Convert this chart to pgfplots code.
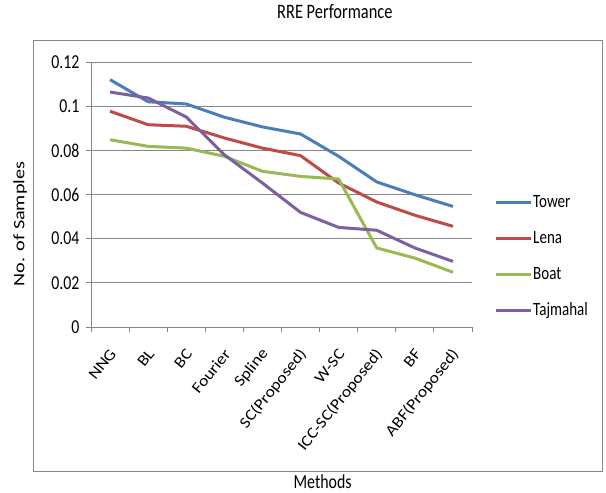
\documentclass[border=0pt]{standalone}
\usepackage{pgfplots}
\pgfplotsset{compat=1.18}
\usepackage{graphicx}
\usepackage{fontspec}
\setmainfont{Carlito}
\definecolor{ctower}{HTML}{4A7EBB}
\definecolor{clena}{HTML}{BE4B48}
\definecolor{cboat}{HTML}{98B954}
\definecolor{ctaj}{HTML}{7D60A0}
\definecolor{cgrid}{HTML}{868686}
\newcommand{\vs}[1]{\scalebox{1}[1.25]{#1}}
\newcommand{\xs}[1]{\scalebox{1.13}[1]{#1}}
\begin{document}
\begin{tikzpicture}
\path[use as bounding box] (-91pt,-166pt) rectangle (515pt,327pt);
\draw[cgrid, line width=1pt] (-57pt,-144pt) rectangle (511pt,286pt);
\begin{axis}[
  at={(0pt,0pt)}, anchor=south west,
  scale only axis, width=381pt, height=265pt,
  xmin=-0.5, xmax=9.5, ymin=0, ymax=0.12,
  axis lines=left, axis line style={-, cgrid, line width=0.9pt},
  xtick={0,...,9},
  xticklabels={\xs{NNG},\xs{BL},\xs{BC},\xs{Fourier},\xs{Spline},\xs{SC(Proposed)},\xs{W-SC},\xs{ICC-SC(Proposed)},\xs{BF},\xs{ABF(Proposed)}},
  major x tick style={draw=none},
  minor xtick={-0.5,0.5,...,9.5},
  minor tick length=5pt,
  minor tick style={cgrid, line width=0.9pt},
  ytick={0,0.02,0.04,0.06,0.08,0.1,0.12},
  yticklabels={\vs{0},\vs{0.02},\vs{0.04},\vs{0.06},\vs{0.08},\vs{0.1},\vs{0.12}},
  major tick length=5pt,
  tick align=outside,
  major y tick style={cgrid, line width=0.9pt},
  ymajorgrids, grid style={cgrid, line width=0.9pt},
  /pgf/number format/assume math mode=true,
  yticklabel style={font=\fontsize{15.8}{18}\selectfont, xshift=-3pt},
  xticklabel style={font=\fontsize{15.7}{18}\selectfont, xshift=3pt, yshift=-19pt, rotate=51.3, anchor=east, inner sep=0pt},
  title={\vs{RRE Performance}},
  title style={at={(axis description cs:0.640,1.166)}, anchor=center, yshift=0pt, font=\fontsize{16.4}{19}\selectfont},
  xlabel={\vs{Methods}},
  xlabel style={at={(axis description cs:0.608,-0.582)}, anchor=center, inner sep=0pt, font=\fontsize{15.9}{19}\selectfont},
  ylabel={\scalebox{1.27}[1]{No. of Samples}},
  ylabel style={at={(axis description cs:-0.186,0.389)}, anchor=center, font=\fontsize{15.9}{19}\selectfont},
  legend style={draw=none, fill=none, at={(axis description cs:1.05,0.51)}, anchor=north west,
    font=\fontsize{15}{18}\selectfont, row sep=19pt, nodes={inner sep=1pt, text height=12pt, text depth=3pt}},
  legend cell align=left,
  legend image code/.code={\draw[#1, line width=3pt] (0pt,0pt) -- (35pt,0pt);},
  every axis plot/.append style={line width=3pt, line join=round},
  clip=false,
]
\addplot[ctower] coordinates {(0,0.112) (1,0.102) (2,0.101) (3,0.095) (4,0.0906) (5,0.0874) (6,0.0773) (7,0.0657) (8,0.0599) (9,0.0546)};
\addlegendentry{\vs{Tower}}
\addplot[clena] coordinates {(0,0.0977) (1,0.0916) (2,0.0909) (3,0.0856) (4,0.081) (5,0.0776) (6,0.0652) (7,0.0566) (8,0.0506) (9,0.0456)};
\addlegendentry{\vs{Lena}}
\addplot[cboat] coordinates {(0,0.0848) (1,0.0818) (2,0.081) (3,0.0773) (4,0.0705) (5,0.0682) (6,0.067) (7,0.0358) (8,0.0312) (9,0.0248)};
\addlegendentry{\vs{Boat}}
\addplot[ctaj] coordinates {(0,0.1064) (1,0.1037) (2,0.0951) (3,0.078) (4,0.0652) (5,0.0519) (6,0.0451) (7,0.0438) (8,0.0358) (9,0.0297)};
\addlegendentry{\vs{Tajmahal}}
\end{axis}
\end{tikzpicture}
\end{document}
